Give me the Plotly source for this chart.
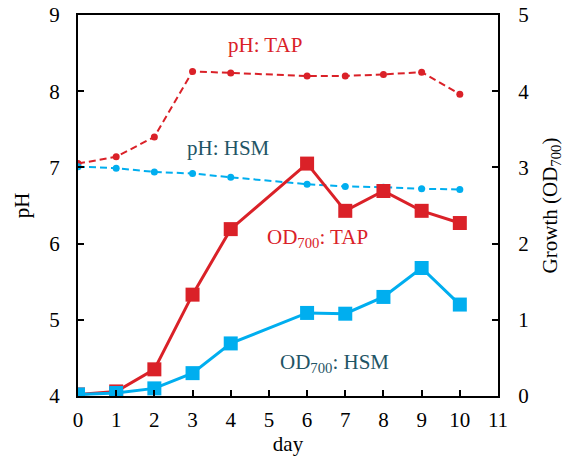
import plotly.graph_objects as go

days = [0, 1, 2, 3, 4, 6, 7, 8, 9, 10]
ph_tap = [7.05, 7.14, 7.40, 8.26, 8.24, 8.20, 8.20, 8.22, 8.25, 7.96]
ph_hsm = [7.01, 6.99, 6.94, 6.92, 6.87, 6.78, 6.75, 6.74, 6.72, 6.71]
od_tap = [0.02, 0.06, 0.35, 1.33, 2.19, 3.05, 2.43, 2.69, 2.43, 2.27]
od_hsm = [0.02, 0.04, 0.10, 0.30, 0.69, 1.09, 1.08, 1.30, 1.68, 1.20]

RED = "#DA2128"
BLUE = "#00AEEF"
TEAL = "#1F5566"
FONT = "Liberation Serif, Times New Roman, serif"
FS = 21

fig = go.Figure()
fig.add_trace(go.Scatter(x=days, y=ph_tap, mode="lines+markers", yaxis="y",
                         line=dict(color=RED, width=2, dash="7px,4px"),
                         marker=dict(symbol="circle", size=7, color=RED)))
fig.add_trace(go.Scatter(x=days, y=ph_hsm, mode="lines+markers", yaxis="y",
                         line=dict(color=BLUE, width=2, dash="7px,4px"),
                         marker=dict(symbol="circle", size=7, color=BLUE)))
fig.add_trace(go.Scatter(x=days, y=od_tap, mode="lines+markers", yaxis="y2",
                         line=dict(color=RED, width=3),
                         marker=dict(symbol="square", size=14, color=RED)))
fig.add_trace(go.Scatter(x=days, y=od_hsm, mode="lines+markers", yaxis="y2",
                         line=dict(color=BLUE, width=3),
                         marker=dict(symbol="square", size=14, color=BLUE)))

axis_common = dict(showgrid=False, zeroline=False, showline=True, linecolor="black",
                   linewidth=2, ticks="inside", ticklen=6, tickcolor="black", tickwidth=1.5,
                   tickfont=dict(family=FONT, size=FS, color="black"))

fig.update_layout(
    width=571, height=459,
    margin=dict(l=78, r=73, t=15, b=63, autoexpand=False),
    plot_bgcolor="white", paper_bgcolor="white",
    showlegend=False,
    font=dict(family=FONT, color="black"),
    xaxis=dict(range=[0, 11], dtick=1, mirror=True, ticklabelstandoff=4,
               title=dict(text="day", font=dict(family=FONT, size=FS), standoff=2),
               **axis_common),
    yaxis=dict(range=[4, 9], dtick=1, mirror=False, ticklabelstandoff=12,
               title=dict(text="pH", font=dict(family=FONT, size=FS), standoff=14),
               **axis_common),
    yaxis2=dict(range=[0, 5], dtick=1, overlaying="y", side="right", ticklabelstandoff=14,
                title=dict(text="Growth (OD<sub>700</sub>)", font=dict(family=FONT, size=FS), standoff=14),
                **axis_common),
)

fig.add_annotation(x=4.9, y=8.6, xref="x", yref="y", text="pH: TAP", showarrow=False,
                   font=dict(family=FONT, size=FS, color=RED))
fig.add_annotation(x=3.94, y=7.25, xref="x", yref="y", text="pH: HSM", showarrow=False,
                   font=dict(family=FONT, size=FS, color=TEAL))
fig.add_annotation(x=6.28, y=6.08, xref="x", yref="y", text="OD<sub>700</sub>: TAP", showarrow=False,
                   font=dict(family=FONT, size=FS, color=RED))
fig.add_annotation(x=6.72, y=4.43, xref="x", yref="y", text="OD<sub>700</sub>: HSM", showarrow=False,
                   font=dict(family=FONT, size=FS, color=TEAL))

fig.write_html("out.html")
